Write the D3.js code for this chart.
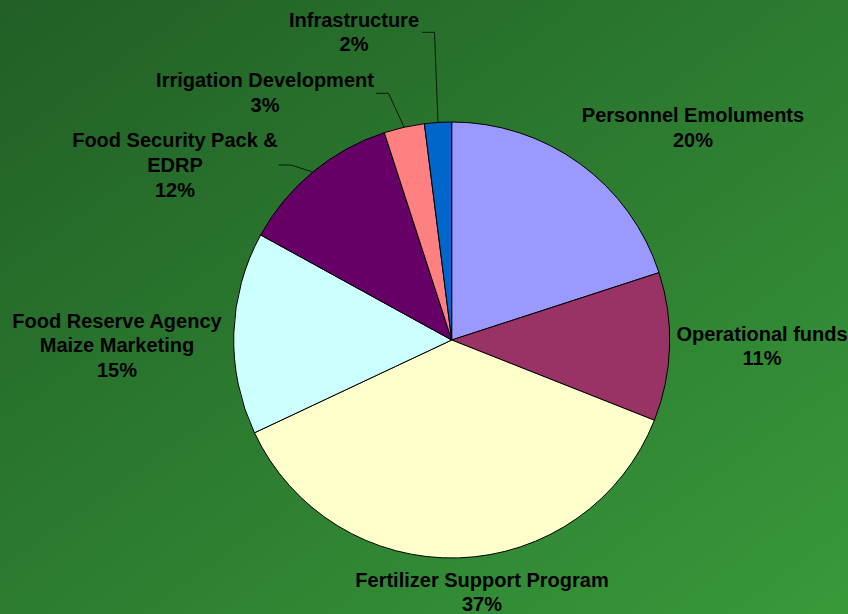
<!DOCTYPE html>
<html>
<head>
<meta charset="utf-8">
<script src="https://cdn.jsdelivr.net/npm/d3@7"></script>
<style>
  html, body { margin: 0; padding: 0; background: #2b7a30; }
  svg { display: block; }
  text { font-family: "Liberation Sans", Arial, sans-serif; font-weight: bold; }
</style>
</head>
<body>
<svg id="chart" width="848" height="614"></svg>
<script>
// Budget shares, clockwise from 12 o'clock
const categories = [
  "Personnel Emoluments",
  "Operational funds",
  "Fertilizer Support Program",
  "Food Reserve Agency Maize Marketing",
  "Food Security Pack & EDRP",
  "Irrigation Development",
  "Infrastructure"
];
const shares = [20, 11, 37, 15, 12, 3, 2];
const labelLines = [
  ["Personnel Emoluments"],
  ["Operational funds"],
  ["Fertilizer Support Program"],
  ["Food Reserve Agency", "Maize Marketing"],
  ["Food Security Pack &", "EDRP"],
  ["Irrigation Development"],
  ["Infrastructure"]
];
const sliceColors = ["#9999FF", "#993366", "#FFFFCC", "#CCFFFF", "#660066", "#FF8080", "#0066CC"];

// Label placement: centre x, first baseline y, optional leader start point
const labelLayout = [
  { x: 693, y: 122 },
  { x: 762, y: 340.7 },
  { x: 482, y: 586.7 },
  { x: 117, y: 327.5 },
  { x: 175, y: 147.3, leader: [278.5, 165] },
  { x: 265, y: 87.3, leader: [376, 93.3] },
  { x: 354, y: 26.7, leader: [422, 32.3] }
];

const W = 848, H = 614;
const cx = 451.7, cy = 340, R = 218;
const lineH = 24.6;

const svg = d3.select("#chart");

// Diagonal green backdrop
const defs = svg.append("defs");
const grad = defs.append("linearGradient")
  .attr("id", "bg").attr("x1", 0).attr("y1", 0).attr("x2", 1).attr("y2", 1);
grad.append("stop").attr("offset", "0%").attr("stop-color", "#215f26");
grad.append("stop").attr("offset", "100%").attr("stop-color", "#38993a");
svg.append("rect").attr("width", W).attr("height", H).attr("fill", "url(#bg)");

const data = categories.map((c, i) => ({ name: c, value: shares[i], color: sliceColors[i], lines: labelLines[i], layout: labelLayout[i] }));

const pie = d3.pie().sort(null).value(d => d.value).startAngle(0).endAngle(2 * Math.PI);
const arc = d3.arc().innerRadius(0).outerRadius(R);
const arcs = pie(data);

const g = svg.append("g").attr("transform", `translate(${cx},${cy})`);
g.selectAll("path.slice")
  .data(arcs)
  .join("path")
  .attr("class", "slice")
  .attr("d", arc)
  .attr("fill", d => d.data.color)
  .attr("stroke", "#000")
  .attr("stroke-width", 1)
  .attr("stroke-linejoin", "round");

// Leader lines for the narrow slices
const pct = d3.format(".0%");
arcs.filter(d => d.data.layout.leader).forEach(d => {
  const mid = (d.startAngle + d.endAngle) / 2;
  const end = [cx + R * Math.sin(mid), cy - R * Math.cos(mid)];
  const s = d.data.layout.leader;
  const elbow = [s[0] + 12.5, s[1]];
  svg.append("polyline")
    .attr("points", [s, elbow, end].map(p => p.join(",")).join(" "))
    .attr("fill", "none")
    .attr("stroke", "#0a1a0a")
    .attr("stroke-width", 1);
});

// Category + percentage labels
const total = d3.sum(shares);
arcs.forEach(d => {
  const L = d.data.layout;
  const lines = d.data.lines.concat([pct(d.data.value / total)]);
  const t = svg.append("text")
    .attr("text-anchor", "middle")
    .attr("font-size", "20px")
    .attr("fill", "#000");
  lines.forEach((ln, k) => {
    t.append("tspan").attr("x", L.x).attr("y", L.y + k * lineH).text(ln);
  });
});
</script>
</body>
</html>
